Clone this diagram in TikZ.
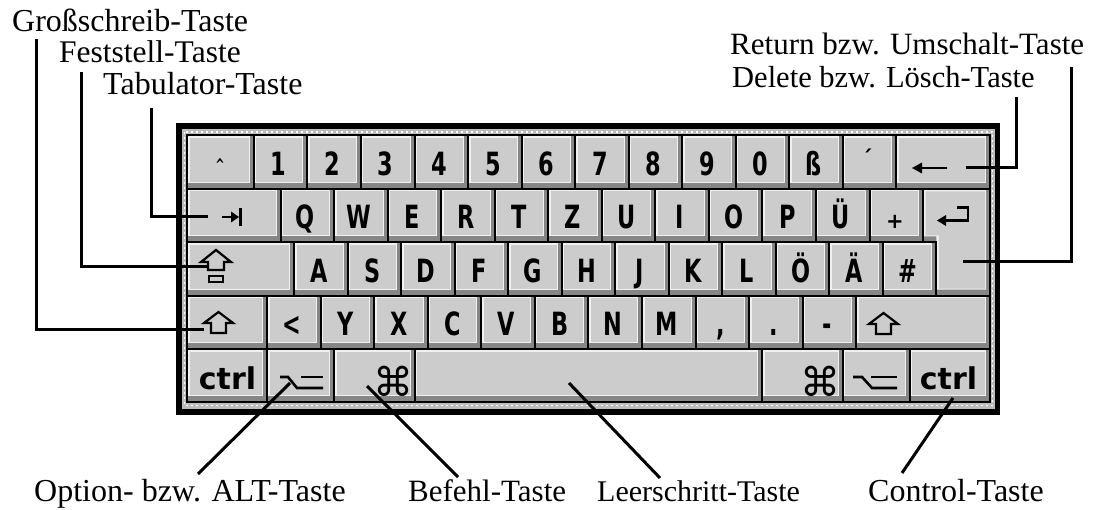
\documentclass[tikz,border=0pt]{standalone}
\usepackage{fontspec}
\setmainfont{Liberation Serif}
\newfontfamily\kbfont{DejaVu Sans}[FakeStretch=0.7]
\newfontfamily\kbwide{DejaVu Sans}
\newfontfamily\kbsym{DejaVu Sans}
\definecolor{kshadowc}{HTML}{868686}
\definecolor{khighc}{HTML}{F0F0F0}
\definecolor{kfacec}{HTML}{CCCCCC}
\definecolor{bandc}{HTML}{BDBDBD}
\tikzset{
  kshadow/.style={fill=kshadowc},
  khigh/.style={fill=khighc},
  kface/.style={fill=kfacec},
  kline/.style={draw=black, line width=2pt},
  klabel/.style={font=\kbfont\bfseries\fontsize{32}{32}\selectfont, text height=23.3pt, text depth=0pt, inner sep=0pt},
  ktiny/.style={font=\kbfont\bfseries\fontsize{16}{16}\selectfont, inner sep=0pt, anchor=base},
  ctrltxt/.style={font=\kbwide\bfseries\fontsize{30}{30}\selectfont, inner sep=0pt, anchor=base},
  cmdtxt/.style={font=\kbsym\fontsize{40}{40}\selectfont, inner sep=0pt},
  lbl/.style={font=\fontsize{31.5}{36}\selectfont, inner sep=0pt, anchor=base west},
  conn/.style={line width=3pt},
  icon/.style={line width=2.6pt},
  iconfill/.style={fill=black},
}
\newcommand\kbkey[5]{%
  \fill[kshadow] (#2,#3) rectangle (#4,#5);
  \fill[khigh] (#2,#3) rectangle ({#4-4},{#5-6});
  \fill[kface] ({#2+2.5},{#3+2.5}) rectangle ({#4-5},{#5-7});
  \draw[kline] (#2,#3) rectangle (#4,#5);
  \coordinate (#1) at ({(#2+#4)/2},{(#3+#5)/2});
}
\begin{document}
\begin{tikzpicture}[x=1pt,y=-1pt]
\useasboundingbox (0,0) rectangle (1093,510);
\fill[white] (0,0) rectangle (1093,510);

% frame
\fill[black] (176,123) rectangle (1000,415);
\fill[bandc] (182,129) rectangle (995,409);
\draw[white, line width=1.5pt, dash pattern=on 2pt off 3pt] (184.5,132) rectangle (992.5,405.5);

% Row 1
\kbkey{r1c0}{187}{135.5}{253.91}{188.9}
\node[ktiny] (r1t0) at (220,171) {\textasciicircum};
\foreach \lab [count=\i] in {1,2,3,4,5,6,7,8,9,0,ß} {
  \pgfmathsetmacro\xa{253.91+(\i-1)*53.53}
  \pgfmathsetmacro\xb{\xa+53.53}
  \kbkey{r1c\i}{\xa}{135.5}{\xb}{188.9}
  \node[klabel] (r1t\i) at ([shift={(-2,1.5)}]r1c\i) {\lab};
}
\kbkey{r1c12}{842.74}{135.5}{896.27}{188.9}
\node[ktiny, font=\kbwide\bfseries\fontsize{22}{22}\selectfont] (r1t12) at (867,167) {´};
\kbkey{r1c13}{896.27}{135.5}{990}{188.9}
% backspace arrow
\draw[icon] (919,168) -- (947,168);
\fill[iconfill] (912,168) -- (922,162.5) -- (922,173.5) -- cycle;

% Row 2
\kbkey{r2c0}{187}{188.9}{280.68}{242.3}
\draw[icon] (222,217) -- (234,217);
\fill[iconfill] (239,217) -- (231,211.5) -- (231,222.5) -- cycle;
\fill[iconfill] (238.5,208) rectangle (242,226);
\foreach \lab [count=\i] in {Q,W,E,R,T,Z,U,I,O,P,Ü} {
  \pgfmathsetmacro\xa{280.68+(\i-1)*53.53}
  \pgfmathsetmacro\xb{\xa+53.53}
  \kbkey{r2c\i}{\xa}{188.9}{\xb}{242.3}
  \node[klabel] (r2t\i) at ([shift={(-2,1.5)}]r2c\i) {\lab};
}
\kbkey{r2c12}{869.51}{188.9}{923.04}{242.3}
\node[ktiny, font=\kbwide\bfseries\fontsize{21}{21}\selectfont] (r2t12) at (895,229) {+};

% Return key (L shape)
\fill[kshadow] (923.04,188.9) -- (990,188.9) -- (990,295.7) -- (936.42,295.7) -- (936.42,242.3) -- (923.04,242.3) -- cycle;
\fill[khigh] (923.04,188.9) -- (986,188.9) -- (986,289.7) -- (936.42,289.7) -- (936.42,236.3) -- (923.04,236.3) -- cycle;
\fill[kface] (925.54,191.4) -- (985,191.4) -- (985,288.7) -- (938.92,288.7) -- (938.92,235.3) -- (925.54,235.3) -- cycle;
\draw[kline] (923.04,188.9) -- (990,188.9) -- (990,295.7) -- (936.42,295.7) -- (936.42,242.3) -- (923.04,242.3) -- cycle;
\coordinate (kret) at (956,242);
\draw[icon] (944,220.5) -- (968,220.5) -- (968,207.5) -- (957,207.5);
\fill[iconfill] (937,220.5) -- (946,215) -- (946,226) -- cycle;

% Row 3
\kbkey{r3c0}{187}{242.3}{294.06}{295.7}
\draw[line width=2.2pt, line join=miter] (216,250) -- (231,262) -- (224,262) -- (224,270) -- (208,270) -- (208,262) -- (201,262) -- cycle;
\draw[line width=2pt] (209,276) rectangle (223,282);
\foreach \lab [count=\i] in {A,S,D,F,G,H,J,K,L,Ö,Ä,\#} {
  \pgfmathsetmacro\xa{294.06+(\i-1)*53.53}
  \pgfmathsetmacro\xb{\xa+53.53}
  \kbkey{r3c\i}{\xa}{242.3}{\xb}{295.7}
  \node[klabel] (r3t\i) at ([shift={(-2,1.5)}]r3c\i) {\lab};
}

% Row 4
\kbkey{r4c0}{187}{295.7}{267.30}{349.1}
\draw[line width=2.2pt, line join=miter] (218.5,312) -- (233,323) -- (226,323) -- (226,333) -- (211,333) -- (211,323) -- (204,323) -- cycle;
\foreach \lab [count=\i] in {<,Y,X,C,V,B,N,M,{,},.,-} {
  \pgfmathsetmacro\xa{267.30+(\i-1)*53.53}
  \pgfmathsetmacro\xb{\xa+53.53}
  \kbkey{r4c\i}{\xa}{295.7}{\xb}{349.1}
  \node[klabel] (r4t\i) at ([shift={(-2,1.5)}]r4c\i) {\lab};
}
\kbkey{r4c12}{856.13}{295.7}{990}{349.1}
\draw[line width=2.2pt, line join=miter] (883.5,313) -- (898,324) -- (891,324) -- (891,334) -- (876,334) -- (876,324) -- (869,324) -- cycle;

% Row 5
\kbkey{r5c0}{187}{349.1}{267.30}{402.5}
\node[ctrltxt] (r5t0) at (227.5,390) {ctrl};
\kbkey{r5c1}{267.30}{349.1}{334.21}{402.5}
\draw[icon] (280,377) -- (288,377) -- (297,388) -- (323,388);
\draw[icon] (301,377) -- (323,377);
\kbkey{r5c2}{334.21}{349.1}{414.50}{402.5}
\node[cmdtxt] (r5t2) at (393.5,381) {⌘};
\kbkey{r5c3}{414.50}{349.1}{762.45}{402.5}
\kbkey{r5c4}{762.45}{349.1}{842.74}{402.5}
\node[cmdtxt] (r5t4) at (820,381) {⌘};
\kbkey{r5c5}{842.74}{349.1}{909.66}{402.5}
\draw[icon] (853,377) -- (862,377) -- (872,388) -- (897,388);
\draw[icon] (871,377) -- (897,377);
\kbkey{r5c6}{909.66}{349.1}{990}{402.5}
\node[ctrltxt] (r5t6) at (948.5,390) {ctrl};

% labels
\node[lbl, font=\fontsize{32}{36}\selectfont] (lgross) at (12,32) {Großschreib-Taste};
\node[lbl] (lfest) at (59,63) {Feststell-Taste};
\node[lbl, font=\fontsize{32}{36}\selectfont] (ltab) at (103,95) {Tabulator-Taste};
\node[lbl, font=\fontsize{31}{36}\selectfont] (lret) at (730,55) {Return bzw. Umschalt-Taste};
\node[lbl, font=\fontsize{30.5}{36}\selectfont] (ldel) at (732,88) {Delete bzw. Lösch-Taste};
\node[lbl, font=\fontsize{32}{36}\selectfont] (lopt) at (34,502) {Option- bzw. ALT-Taste};
\node[lbl, font=\fontsize{31}{36}\selectfont] (lbef) at (408,502) {Befehl-Taste};
\node[lbl, font=\fontsize{30}{36}\selectfont] (lleer) at (597,502) {Leerschritt-Taste};
\node[lbl, font=\fontsize{32}{36}\selectfont] (lctrl) at (868,502) {Control-Taste};

% connector end points
\coordinate (cg1) at (36,39);   \coordinate (cg2) at (204,330);
\coordinate (cf1) at (81,72);   \coordinate (cf2) at (207,267);
\coordinate (ct1) at (151,108); \coordinate (ct2) at (208,217);
\coordinate (cd1) at (1016,97); \coordinate (cd2) at (966,168);
\coordinate (cr1) at (1071,67); \coordinate (cr2) at (963,262);
\coordinate (co1) at (198,474); \coordinate (co2) at (290,383);
\coordinate (cb1) at (458,477); \coordinate (cb2) at (367,386);
\coordinate (cl1) at (660,478); \coordinate (cl2) at (569,383);
\coordinate (cc1) at (902,473); \coordinate (cc2) at (953,398);

\draw[conn] (cg1) |- (cg2);
\draw[conn] (cf1) |- (cf2);
\draw[conn] (ct1) |- (ct2);
\draw[conn] (cd1) |- (cd2);
\draw[conn] (cr1) |- (cr2);
\draw[conn] (co1) -- (co2);
\draw[conn] (cb1) -- (cb2);
\draw[conn] (cl1) -- (cl2);
\draw[conn] (cc1) -- (cc2);
\end{tikzpicture}
\end{document}
